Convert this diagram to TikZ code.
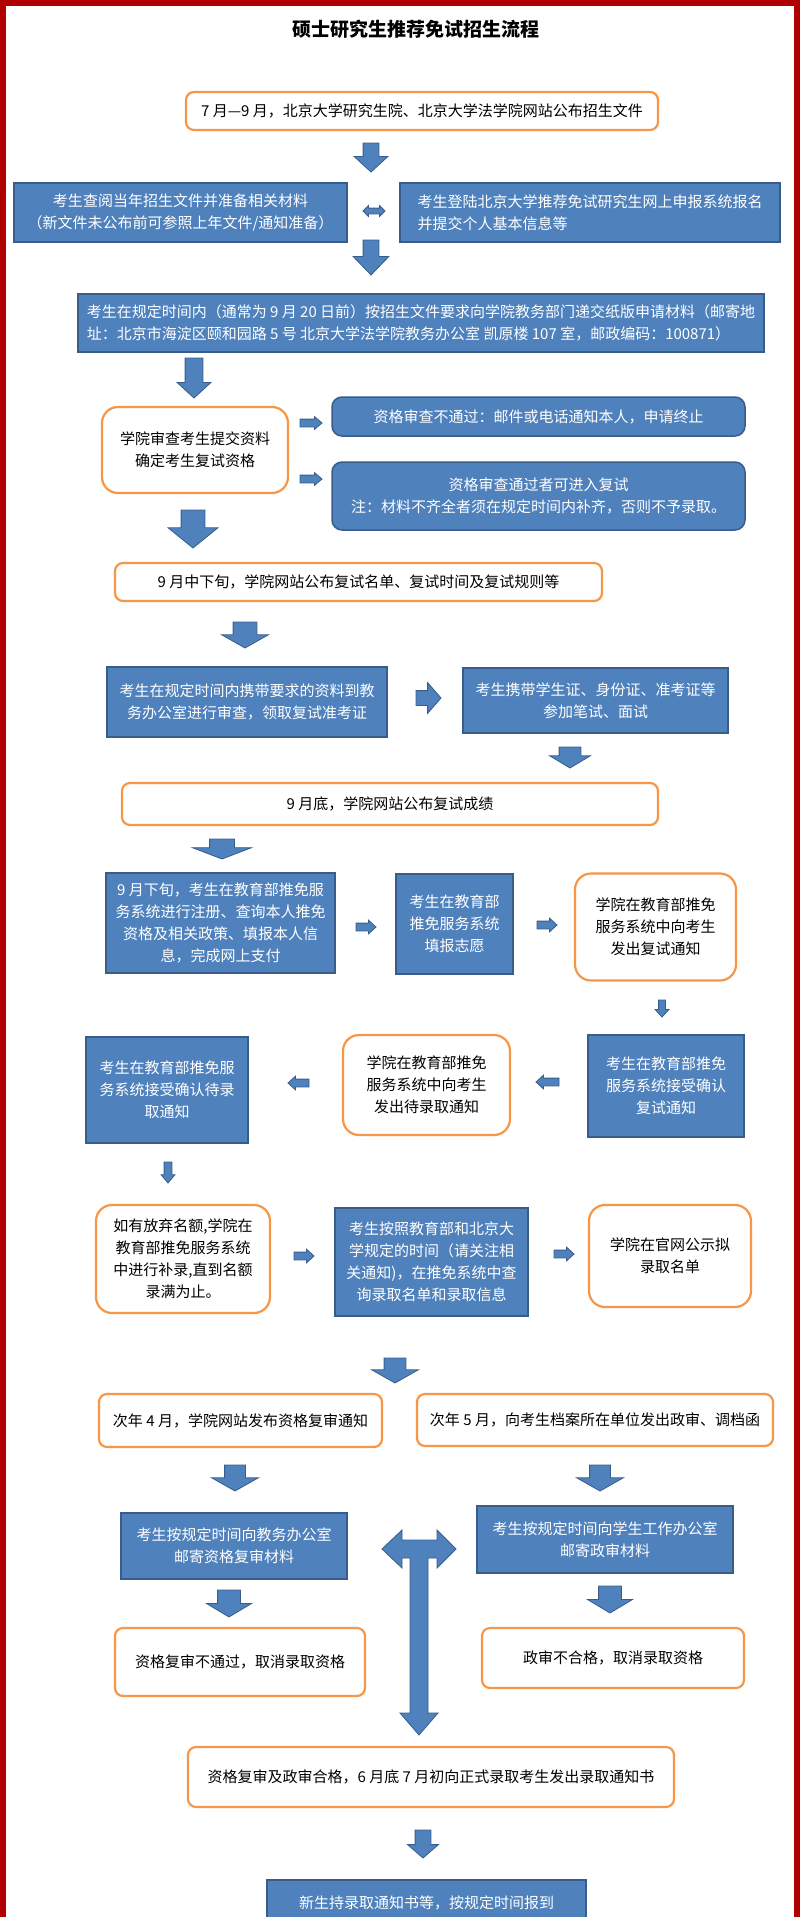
\documentclass[tikz,border=0pt]{standalone}
\usepackage{fontspec}
\setmainfont{Noto Sans CJK SC}
\usetikzlibrary{shapes.arrows}
\definecolor{boxblue}{HTML}{4F81BD}
\definecolor{boxedge}{HTML}{385D8A}
\definecolor{boxorange}{HTML}{F79646}
\definecolor{framered}{HTML}{B00000}
\tikzset{blksize/.style n args={4}{inner ysep=#1, single arrow head extend=#2, minimum height=#3, single arrow tip angle=#4}}

\begin{document}
\begin{tikzpicture}[x=1pt,y=-1pt]
\tikzstyle{every node}+=[inner sep=0pt, font=\fontsize{15}{22}\selectfont]
\tikzstyle{bluebox}=[draw=boxedge, line width=1.5, fill=boxblue, text=white, align=center]
\tikzstyle{bluelbox}=[bluebox, align=left]
\tikzstyle{roundblue}=[bluebox, rounded corners=10]
\tikzstyle{orangebox}=[draw=boxorange, line width=2.2, fill=white, text=black, rounded corners=8, align=center]
\tikzstyle{softbox}=[orangebox, rounded corners=16]
\tikzstyle{blk}=[single arrow, draw=boxedge, line width=0.8, fill=boxblue, inner xsep=0pt, outer sep=0pt, sloped, allow upside down, pos=1, anchor=tip]
\useasboundingbox (0,0) rectangle (800,1917);
% frame
\draw [framered, line width=6] (3,1925) -- (3,3) -- (797,3) -- (797,1925);
\node [font=\fontsize{19}{22}\selectfont\bfseries] (title) at (416,29) {硕士研究生推荐免试招生流程};
% first block
\node [orangebox, minimum width=472, minimum height=38] (b1) at (422,111) {7 月—9 月，北京大学研究生院、北京大学法学院网站公布招生文件};
\node [bluebox, minimum width=333, minimum height=59] (b2l) at (180.5,212.5) {考生查阅当年招生文件并准备相关材料\\（新文件未公布前可参照上年文件/通知准备）};
\node [bluelbox, minimum width=380, minimum height=59] (b2r) at (590,212.5) {考生登陆北京大学推荐免试研究生网上申报系统报名\\并提交个人基本信息等};
\node [bluelbox, minimum width=686, minimum height=58] (b3) at (421,323) {考生在规定时间内（通常为 9 月 20 日前）按招生文件要求向学院教务部门递交纸版申请材料（邮寄地\\址：北京市海淀区颐和园路 5 号 北京大学法学院教务办公室 凯原楼 107 室，邮政编码：100871）};
\node [softbox, minimum width=186, minimum height=86] (b4) at (195,450) {学院审查考生提交资料\\确定考生复试资格};
\node [roundblue, minimum width=413, minimum height=39] (b5a) at (538.5,416.5) {资格审查不通过：邮件或电话通知本人，申请终止};
\node [roundblue, minimum width=413, minimum height=68] (b5b) at (538.5,496) {资格审查通过者可进入复试\\注：材料不齐全者须在规定时间内补齐，否则不予录取。};
\node [orangebox, minimum width=487, minimum height=38] (b6) at (358.5,582) {9 月中下旬，学院网站公布复试名单、复试时间及复试规则等};
\node [bluebox, minimum width=280, minimum height=70] (b7l) at (247,702) {考生在规定时间内携带要求的资料到教\\务办公室进行审查，领取复试准考证};
\node [bluebox, minimum width=265, minimum height=65] (b7r) at (595.5,700.5) {考生携带学生证、身份证、准考证等\\参加笔试、面试};
\node [orangebox, minimum width=536, minimum height=42] (b8) at (390,804) {9 月底，学院网站公布复试成绩};
% online system
\node [bluebox, minimum width=229, minimum height=100] (b9a) at (220.5,923) {9 月下旬，考生在教育部推免服\\务系统进行注册、查询本人推免\\资格及相关政策、填报本人信\\息，完成网上支付};
\node [bluebox, minimum width=117, minimum height=100] (b9b) at (454.5,924) {考生在教育部\\推免服务系统\\填报志愿};
\node [softbox, minimum width=161, minimum height=107] (b9c) at (655.5,927) {学院在教育部推免\\服务系统中向考生\\发出复试通知};
\node [bluebox, minimum width=156, minimum height=102] (b10c) at (666,1086) {考生在教育部推免\\服务系统接受确认\\复试通知};
\node [softbox, minimum width=167, minimum height=100] (b10b) at (426.5,1085) {学院在教育部推免\\服务系统中向考生\\发出待录取通知};
\node [bluebox, minimum width=162, minimum height=106] (b10a) at (167,1090) {考生在教育部推免服\\务系统接受确认待录\\取通知};
\node [softbox, minimum width=174, minimum height=108] (b11a) at (183,1259) {如有放弃名额,学院在\\教育部推免服务系统\\中进行补录,直到名额\\录满为止。};
\node [bluebox, minimum width=193, minimum height=108] (b11b) at (431.5,1262) {考生按照教育部和北京大\\学规定的时间（请关注相\\关通知)，在推免系统中查\\询录取名单和录取信息};
\node [softbox, minimum width=162, minimum height=102] (b11c) at (670,1256) {学院在官网公示拟\\录取名单};
% next year
\node [orangebox, minimum width=283, minimum height=53] (b12l) at (240.5,1420.5) {次年 4 月，学院网站发布资格复审通知};
\node [orangebox, minimum width=356, minimum height=52] (b12r) at (595,1420) {次年 5 月，向考生档案所在单位发出政审、调档函};
\node [bluebox, minimum width=226, minimum height=66] (b13l) at (234,1546) {考生按规定时间向教务办公室\\邮寄资格复审材料};
\node [bluebox, minimum width=256, minimum height=67] (b13r) at (605,1539.5) {考生按规定时间向学生工作办公室\\邮寄政审材料};
\node [orangebox, minimum width=250, minimum height=68] (b14l) at (240,1662) {资格复审不通过，取消录取资格};
\node [orangebox, minimum width=262, minimum height=60] (b14r) at (613,1658) {政审不合格，取消录取资格};
\node [orangebox, minimum width=486, minimum height=60] (b15) at (431,1777) {资格复审及政审合格，6 月底 7 月初向正式录取考生发出录取通知书};
\node [bluebox, minimum width=319, minimum height=46] (b16) at (426.5,1903) {新生持录取通知书等，按规定时间报到};
% arrow ends
\coordinate (a1s) at (371,143);  \coordinate (a1e) at (371,172);
\coordinate (a3s) at (371,240);  \coordinate (a3e) at (371,275);
\coordinate (a4s) at (194,358);  \coordinate (a4e) at (194,398);
\coordinate (a5s) at (300,423);  \coordinate (a5e) at (322,423);
\coordinate (a6s) at (300,479);  \coordinate (a6e) at (322,479);
\coordinate (a7s) at (193,510);  \coordinate (a7e) at (193,548);
\coordinate (a8s) at (245,622);  \coordinate (a8e) at (245,648);
\coordinate (a9s) at (416,698);  \coordinate (a9e) at (441,698);
\coordinate (a10s) at (570,747); \coordinate (a10e) at (570,768);
\coordinate (a11s) at (222,839); \coordinate (a11e) at (222,859);
\coordinate (a12s) at (356,927); \coordinate (a12e) at (376,927);
\coordinate (a13s) at (537,925); \coordinate (a13e) at (557,925);
\coordinate (a14s) at (662,1000); \coordinate (a14e) at (662,1017);
\coordinate (a15s) at (559,1082); \coordinate (a15e) at (536,1082);
\coordinate (a16s) at (309,1083); \coordinate (a16e) at (288,1083);
\coordinate (a17s) at (168,1162); \coordinate (a17e) at (168,1183);
\coordinate (a18s) at (294,1256); \coordinate (a18e) at (314,1256);
\coordinate (a19s) at (554,1254); \coordinate (a19e) at (574,1254);
\coordinate (a20s) at (395,1358); \coordinate (a20e) at (395,1383);
\coordinate (a21s) at (235,1465); \coordinate (a21e) at (235,1491);
\coordinate (a22s) at (600,1465); \coordinate (a22e) at (600,1491);
\coordinate (a24s) at (229,1590); \coordinate (a24e) at (229,1617);
\coordinate (a25s) at (610,1586); \coordinate (a25e) at (610,1613);
\coordinate (a26s) at (423,1830); \coordinate (a26e) at (423,1858);
\coordinate (a2s) at (363,211);  \coordinate (a2e) at (385,211);
% block arrows
\path (a1s) -- (a1e) node [blk, blksize={7.5}{9}{29}{95}] (ar1) {};
\path (a2s) -- (a2e) node [double arrow, draw=boxedge, line width=0.8, fill=boxblue, inner xsep=0pt, inner ysep=2.5, double arrow head extend=2.5, minimum height=22, double arrow tip angle=90, midway] (ar2) {};
\path (a3s) -- (a3e) node [blk, blksize={7.5}{10}{35}{88}] (ar3) {};
\path (a4s) -- (a4e) node [blk, blksize={8.5}{8}{40}{95}] (ar4) {};
\path (a5s) -- (a5e) node [blk, blksize={3.5}{2.5}{22}{81}] (ar5) {};
\path (a6s) -- (a6e) node [blk, blksize={3.5}{2.5}{22}{81}] (ar6) {};
\path (a7s) -- (a7e) node [blk, blksize={11.5}{13}{38}{102}] (ar7) {};
\path (a8s) -- (a8e) node [blk, blksize={11.5}{11.5}{26}{121}] (ar8) {};
\path (a9s) -- (a9e) node [blk, blksize={7}{8}{25}{98}] (ar9) {};
\path (a10s) -- (a10e) node [blk, blksize={10.5}{9.5}{21}{118}] (ar10) {};
\path (a11s) -- (a11e) node [blk, blksize={12}{17}{20}{138}] (ar11) {};
\path (a12s) -- (a12e) node [blk, blksize={3.5}{3}{20}{85}] (ar12) {};
\path (a13s) -- (a13e) node [blk, blksize={3.5}{3}{20}{85}] (ar13) {};
\path (a14s) -- (a14e) node [blk, blksize={3}{3.5}{17}{85}] (ar14) {};
\path (a15s) -- (a15e) node [blk, blksize={3.5}{3}{23}{85}] (ar15) {};
\path (a16s) -- (a16e) node [blk, blksize={3.5}{3}{21}{85}] (ar16) {};
\path (a17s) -- (a17e) node [blk, blksize={3.5}{3}{21}{80}] (ar17) {};
\path (a18s) -- (a18e) node [blk, blksize={3.5}{3}{20}{85}] (ar18) {};
\path (a19s) -- (a19e) node [blk, blksize={3.5}{3}{20}{85}] (ar19) {};
\path (a20s) -- (a20e) node [blk, blksize={10.5}{12.5}{25}{121}] (ar20) {};
\path (a21s) -- (a21e) node [blk, blksize={10}{13}{26}{121}] (ar21) {};
\path (a22s) -- (a22e) node [blk, blksize={10}{13}{26}{121}] (ar22) {};
\path (a24s) -- (a24e) node [blk, blksize={11}{11}{27}{118}] (ar24) {};
\path (a25s) -- (a25e) node [blk, blksize={11}{11}{27}{118}] (ar25) {};
\path (a26s) -- (a26e) node [blk, blksize={7.5}{7.5}{28}{98}] (ar26) {};
% three-way arrow
\filldraw [draw=boxedge, fill=boxblue, line width=0.8] (382,1549) -- (402,1530) -- (402,1540) -- (437,1540) -- (437,1530) -- (456,1549) -- (437,1568) -- (437,1558) -- (428,1558) -- (428,1713) -- (438,1713) -- (419,1735) -- (400,1713) -- (410,1713) -- (410,1558) -- (402,1558) -- (402,1568) -- cycle;
\end{tikzpicture}
\end{document}
